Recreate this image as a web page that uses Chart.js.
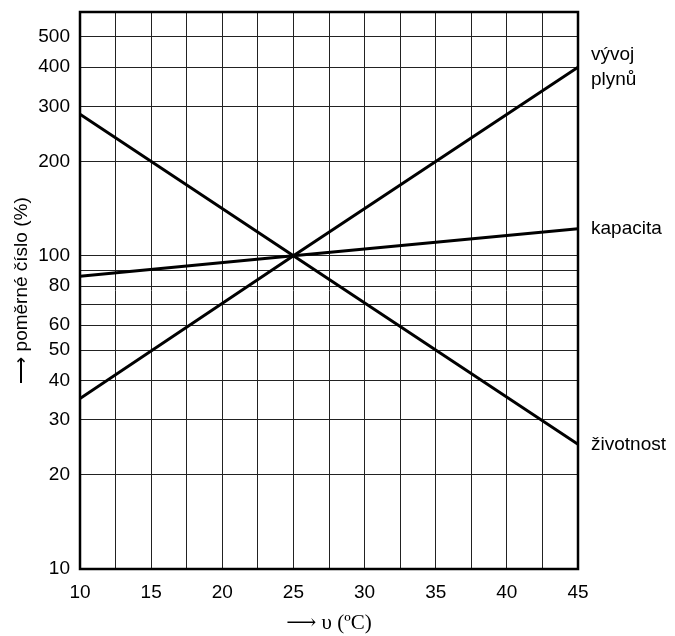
<!DOCTYPE html>
<html>
<head>
<meta charset="utf-8">
<script src="https://cdn.jsdelivr.net/npm/chart.js@4"></script>
<style>
  body { margin: 0; background: #fff; }
  #obal { width: 675px; height: 636px; }
</style>
</head>
<body>
<div id="obal"><canvas id="graf"></canvas></div>
<script>
// teplota (°C) a relativni hodnoty (%)
const teploty = [10, 25, 45];
const vyvojPlynu = [35, 100, 400];
const kapacita = [86, 100, 122];
const zivotnost = [283, 100, 25];

const popisky = [['vývoj', 'plynů'], ['kapacita'], ['životnost']];

const yMrizka = [10, 20, 30, 40, 50, 60, 70, 80, 90, 100, 200, 300, 400, 500];
const yPopisky = [10, 20, 30, 40, 50, 60, 80, 100, 200, 300, 400, 500];
const xPopisky = [10, 15, 20, 25, 30, 35, 40, 45];

const pismo = "'Liberation Sans', Arial, sans-serif";

function body(hodnoty) {
  return teploty.map((t, i) => ({ x: t, y: hodnoty[i] }));
}

// oramovani grafu
const ramecek = {
  id: 'ramecek',
  afterDatasetsDraw(chart) {
    const a = chart.chartArea;
    const ctx = chart.ctx;
    ctx.save();
    ctx.strokeStyle = '#000';
    ctx.lineWidth = 2.5;
    ctx.strokeRect(a.left, a.top, a.right - a.left, a.bottom - a.top);
    ctx.restore();
  }
};

// popisky krivek vpravo
const popiskyKrivek = {
  id: 'popiskyKrivek',
  afterDatasetsDraw(chart) {
    const ctx = chart.ctx;
    ctx.save();
    ctx.font = '19px ' + pismo;
    ctx.fillStyle = '#000';
    ctx.textBaseline = 'middle';
    chart.data.datasets.forEach((ds, i) => {
      const meta = chart.getDatasetMeta(i);
      const bod = meta.data[meta.data.length - 1];
      const radky = popisky[i];
      const vyska = 25;
      radky.forEach((r, j) => {
        const y = bod.y + (j - (radky.length - 1) / 2) * vyska;
        ctx.fillText(r, chart.chartArea.right + 13, y);
      });
    });
    ctx.restore();
  }
};

const ctx = document.getElementById('graf');

new Chart(ctx, {
  type: 'line',
  data: {
    datasets: [
      { data: body(vyvojPlynu), borderColor: '#000', borderWidth: 3, pointRadius: 0, fill: false },
      { data: body(kapacita), borderColor: '#000', borderWidth: 3, pointRadius: 0, fill: false },
      { data: body(zivotnost), borderColor: '#000', borderWidth: 3, pointRadius: 0, fill: false }
    ]
  },
  options: {
    responsive: true,
    maintainAspectRatio: false,
    animation: false,
    layout: { padding: { top: 12, right: 97, left: 0, bottom: 0 } },
    plugins: { legend: { display: false }, tooltip: { enabled: false } },
    scales: {
      x: {
        type: 'linear',
        min: 10,
        max: 45,
        ticks: {
          stepSize: 2.5,
          autoSkip: false,
          maxRotation: 0,
          padding: 12,
          color: '#000',
          font: { size: 19, family: pismo },
          callback: v => xPopisky.includes(v) ? String(v) : ''
        },
        grid: { color: '#222', lineWidth: 1, drawTicks: false },
        border: { display: false },
        title: {
          display: true,
          text: '⟶ υ (ºC)',
          color: '#000',
          font: { size: 21, family: "'Liberation Serif', 'DejaVu Serif', serif" },
          padding: { top: 2, bottom: 0 }
        },
        afterFit(s) { s.height = 67; s.paddingLeft = 0; s.paddingRight = 0; }
      },
      y: {
        type: 'logarithmic',
        min: 10,
        max: 600,
        afterBuildTicks(s) { s.ticks = yMrizka.map(v => ({ value: v })); },
        ticks: {
          autoSkip: false,
          padding: 10,
          color: '#000',
          font: { size: 19, family: pismo },
          callback: v => yPopisky.includes(v) ? String(v) : ''
        },
        grid: { color: '#222', lineWidth: 1, drawTicks: false },
        border: { display: false },
        title: {
          display: true,
          text: '⟶ poměrné číslo (%)',
          color: '#000',
          font: { size: 19, family: pismo },
          padding: { top: 10, bottom: 0 }
        },
        afterFit(s) { s.width = 80; s.paddingTop = 0; s.paddingBottom = 0; }
      }
    }
  },
  plugins: [ramecek, popiskyKrivek]
});
</script>
</body>
</html>
